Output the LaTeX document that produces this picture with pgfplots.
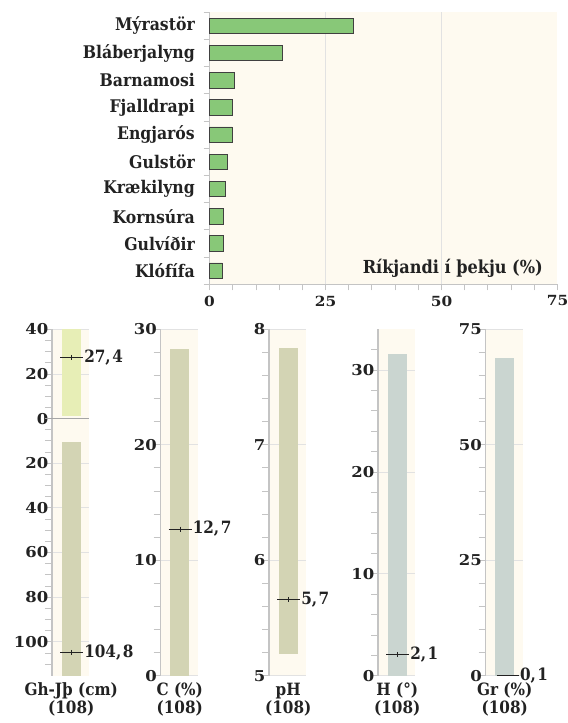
\documentclass[border=0pt]{standalone}
\usepackage{pgfplots}
\pgfplotsset{compat=1.18}
\usepackage{fontspec}
\setmainfont{DejaVu Serif}[FakeStretch=0.9]
\newfontfamily\numfont{DejaVu Serif}[FakeStretch=1.1]
\definecolor{bgc}{HTML}{FEFAF0}
\definecolor{grn}{HTML}{88C878}
\definecolor{olv}{HTML}{D3D4B4}
\definecolor{tea}{HTML}{CAD5D0}
\definecolor{ylw}{HTML}{E7EEB6}
\definecolor{axg}{HTML}{C4C4C4}
\definecolor{grd}{HTML}{E2E2E2}
\definecolor{txt}{HTML}{222222}
\pgfplotsset{
 panel/.style={
   scale only axis, width=37bp, height=346.4bp, xmin=0, xmax=1,
   axis y line*=left, axis x line=none,
   axis line style={-, draw=axg, line width=1.3bp},
   axis background/.style={fill=bgc},
   xtick=\empty, ymajorgrids, grid style={draw=grd, line width=0.8bp},
   tick align=outside, major tick length=7bp, minor tick length=7bp,
   every tick/.style={draw=axg, line width=0.8bp},
   minor y tick num=4,
   yticklabel style={font=\numfont\fontsize{15}{15}\selectfont\bfseries, text=txt, inner xsep=0bp, xshift=3.5bp},
   /pgf/number format/assume math mode=true,
   clip=false,
 },
}
\tikzset{
 med/.style={draw=txt, line width=1bp},
 medmark/.style={draw=txt, mark=|, mark size=2.5bp, mark options={line width=0.8bp}},
 medlab/.style={anchor=west, font=\fontsize{17}{17}\selectfont\bfseries, text=txt, inner sep=1bp},
 botlab/.style={anchor=north, align=center, font=\fontsize{17}{18}\selectfont\bfseries, text=txt, yshift=-6bp, inner ysep=1bp},
}
\begin{document}
\begin{tikzpicture}
\useasboundingbox (0,0) rectangle (568bp,723bp);
% ---------------- top bar chart
\begin{axis}[
  at={(209.5bp,438.7bp)}, anchor=south west,
  scale only axis, width=348bp, height=272bp,
  xmin=0, xmax=75, ymin=-0.5, ymax=9.5, y dir=reverse,
  axis x line*=bottom, axis y line*=left,
  axis line style={-, draw=axg, line width=1.3bp},
  axis background/.style={fill=bgc},
  xtick={0,25,50,75}, minor xtick={0,5,...,75},
  extra x ticks={25,50}, extra x tick labels={},
  extra x tick style={grid=major},
  grid style={draw=grd, line width=0.8bp},
  ytick={0,...,9},
  yticklabels={Mýrastör,Bláberjalyng,Barnamosi,Fjalldrapi,Engjarós,Gulstör,Krækilyng,Kornsúra,Gulvíðir,Klófífa},
  minor ytick={-0.5,0.5,...,9.5},
  tick align=outside, major tick length=0pt, minor tick length=6bp,
  every tick/.style={draw=axg, line width=0.8bp},
  yticklabel style={font=\fontsize{17.5}{17.5}\selectfont\bfseries, text=txt, inner xsep=2bp, xshift=-12.5bp},
  xticklabel style={font=\numfont\fontsize{14}{14}\selectfont\bfseries, text=txt, yshift=-8bp},
  /pgf/number format/assume math mode=true,
  clip=false,
]
\addplot[xbar, bar width=15.4bp, fill=grn, draw=black!75, line width=0.8bp]
 coordinates {(31.0,0) (15.8,1) (5.4,2) (5.0,3) (4.9,4) (3.8,5) (3.5,6) (3.0,7) (3.0,8) (2.8,9)};
\node[anchor=east, font=\fontsize{18}{18}\selectfont\bfseries, text=txt, yshift=2bp] at (axis cs:72.6,9) {Ríkjandi í þekju (\%)};
\end{axis}
% ---------------- panel 1: Gh-Jth
\begin{axis}[panel, at={(52bp,47.3bp)}, anchor=south west,
  ymin=-115.2, ymax=40,
  ytick={40,20,0,-20,-40,-60,-80,-100}, yticklabels={40,20,0,20,40,60,80,100},
  minor ytick={35,30,25,15,10,5,-5,-10,-15,-25,-30,-35,-45,-50,-55,-65,-70,-75,-85,-90,-95,-105,-110}]
\addplot[fill=ylw, draw=none] coordinates {(0.27,1.2) (0.78,1.2) (0.78,40) (0.27,40)} -- cycle;
\addplot[fill=olv, draw=none] coordinates {(0.27,-10.6) (0.78,-10.6) (0.78,-115.2) (0.27,-115.2)} -- cycle;
\addplot[draw=gray!70, line width=1.3bp] coordinates {(-0.2,0) (1,0)};
\addplot[med] coordinates {(0.22,27.4) (0.84,27.4)};
\addplot[medmark, only marks] coordinates {(0.53,27.4)};
\node[medlab] at (axis cs:0.84,27.4) {27,\kern1.5bp4};
\addplot[med] coordinates {(0.22,-104.8) (0.84,-104.8)};
\addplot[medmark, only marks] coordinates {(0.53,-104.8)};
\node[medlab] at (axis cs:0.84,-104.8) {104,\kern1.5bp8};
\node[botlab] at (axis cs:0.52,-115.2) {Gh-Jþ (cm)\\(108)};
\end{axis}
% ---------------- panel 2: C
\begin{axis}[panel, at={(160.5bp,47.3bp)}, anchor=south west,
  ymin=0, ymax=30, ytick={0,10,20,30}]
\addplot[fill=olv, draw=none] coordinates {(0.27,0) (0.78,0) (0.78,28.3) (0.27,28.3)} -- cycle;
\addplot[med] coordinates {(0.22,12.7) (0.84,12.7)};
\addplot[medmark, only marks] coordinates {(0.53,12.7)};
\node[medlab] at (axis cs:0.84,12.7) {12,\kern1.5bp7};
\node[botlab] at (axis cs:0.52,0) {C (\%)\\(108)};
\end{axis}
% ---------------- panel 3: pH
\begin{axis}[panel, at={(269bp,47.3bp)}, anchor=south west,
  ymin=5, ymax=8, ytick={5,6,7,8}]
\addplot[fill=olv, draw=none] coordinates {(0.27,5.19) (0.78,5.19) (0.78,7.84) (0.27,7.84)} -- cycle;
\addplot[med] coordinates {(0.22,5.66) (0.84,5.66)};
\addplot[medmark, only marks] coordinates {(0.53,5.66)};
\node[medlab] at (axis cs:0.84,5.66) {5,\kern1.5bp7};
\node[botlab] at (axis cs:0.52,5) {pH\\(108)};
\end{axis}
% ---------------- panel 4: H
\begin{axis}[panel, at={(378bp,47.3bp)}, anchor=south west,
  ymin=0, ymax=34, ytick={0,10,20,30}, minor ytick={2,4,...,32}]
\addplot[fill=tea, draw=none] coordinates {(0.27,0) (0.78,0) (0.78,31.6) (0.27,31.6)} -- cycle;
\addplot[med] coordinates {(0.22,2.1) (0.84,2.1)};
\addplot[medmark, only marks] coordinates {(0.53,2.1)};
\node[medlab] at (axis cs:0.84,2.1) {2,\kern1.5bp1};
\node[botlab] at (axis cs:0.52,0) {H (°)\\(108)};
\end{axis}
% ---------------- panel 5: Gr
\begin{axis}[panel, at={(485.5bp,47.3bp)}, anchor=south west,
  ymin=0, ymax=75, ytick={0,25,50,75}]
\addplot[fill=tea, draw=none] coordinates {(0.27,0) (0.78,0) (0.78,68.7) (0.27,68.7)} -- cycle;
\addplot[draw=txt, line width=1.4bp] coordinates {(0.3,0.1) (0.9,0.1)};
\node[medlab] at (axis cs:0.9,0.1) {0,\kern1.5bp1};
\node[botlab] at (axis cs:0.52,0) {Gr (\%)\\(108)};
\end{axis}
\end{tikzpicture}
\end{document}
